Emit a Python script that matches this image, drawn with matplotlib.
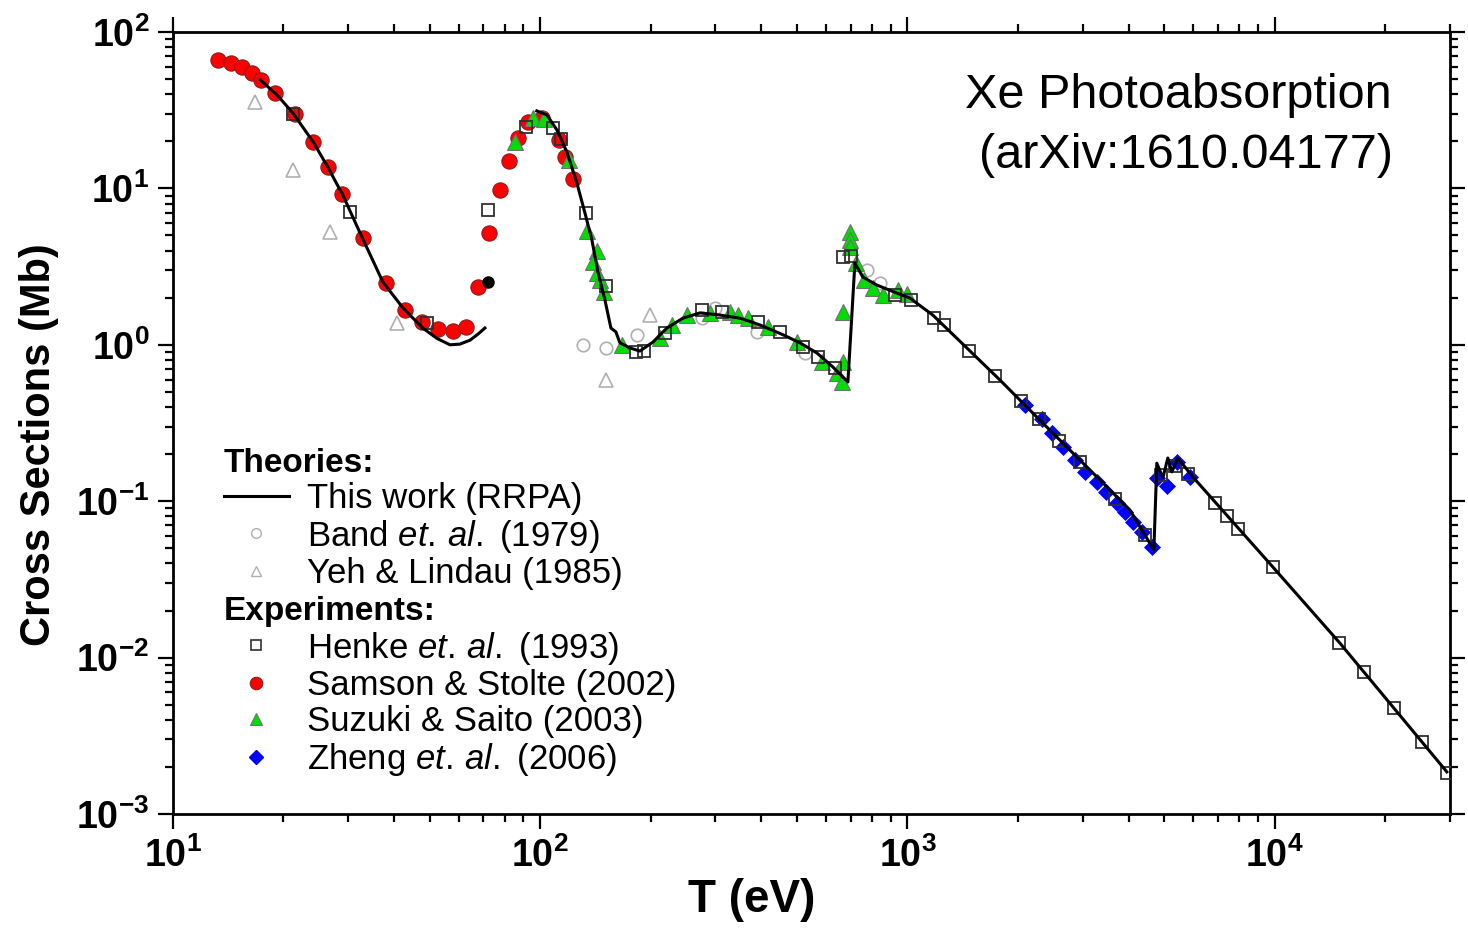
import numpy as np
import matplotlib
matplotlib.use("Agg")
import matplotlib.pyplot as plt
from matplotlib.ticker import LogLocator, FuncFormatter, NullFormatter
from matplotlib.lines import Line2D

plt.rcParams['font.family'] = ['Liberation Sans', 'DejaVu Sans']
plt.rcParams['mathtext.fontset'] = 'custom'
plt.rcParams['mathtext.rm'] = 'Liberation Sans'
plt.rcParams['mathtext.it'] = 'Liberation Sans:italic'
plt.rcParams['mathtext.bf'] = 'Liberation Sans:bold'

# ---------------- data ----------------
# RRPA theory curve (two segments)
rrpa1_T = [17.3, 19.2, 21.2, 24.1, 26.4, 29.0, 32.7, 37.3, 42.3, 47.9, 52.3, 56.8, 60.4,
           64.4, 67.7, 70.7]
rrpa1_sigma = [49.3, 39.6, 30.4, 19.8, 13.7, 9.08, 4.89, 2.52, 1.72, 1.28, 1.10, 1.00, 1.01,
               1.07, 1.17, 1.28]

rrpa2_T = [97.9, 104.3, 111.1, 118.2, 125.9, 132.4, 138.3, 143.6, 150.1, 155.8, 160.7, 164.8,
           175.5, 186.8, 202.7, 221.3, 244.7, 272.2, 308.6, 349.8, 396.4, 458.0, 509.4, 566.6,
           626.6, 688.4, 719.3, 756.2, 825.4, 935.7, 1015, 1172, 1451, 1785, 2195, 2716, 3341,
           4033, 4688, 4775, 4959, 5117, 5247, 5447, 5984, 9880, 15040, 29420]
rrpa2_sigma = [31.3, 29.5, 23.6, 17.1, 10.8, 6.96, 4.68, 2.92, 1.93, 1.28, 1.21, 1.03,
               0.955, 0.912, 1.04, 1.28, 1.48, 1.60, 1.55, 1.48, 1.34, 1.16, 1.03, 0.887,
               0.721, 0.578, 3.33, 2.71, 2.41, 2.14, 1.99, 1.55, 0.955, 0.596, 0.366, 0.222, 0.137,
               0.0879, 0.0488, 0.175, 0.141, 0.189, 0.154, 0.189, 0.143, 0.0380, 0.0124, 0.00186]

# Band et al. (1979)
band_T = [130.7, 151.0, 183.4, 275.5, 299.1, 389.0, 525.6, 775.4, 841.1]
band_sigma = [1.00, 0.955, 1.16, 1.48, 1.72, 1.21, 0.887, 3.01, 2.48]

# Yeh & Lindau (1985)
yeh_T = [16.7, 21.2, 26.8, 40.7, 151.0, 198.9]
yeh_sigma = [35.6, 13.1, 5.26, 1.38, 0.596, 1.55]

# Henke et al. (1993)
henke_T = [21.2, 30.3, 49.1, 72.0, 91.4, 108.3, 113.9, 133.2, 151.0, 182.2, 191.6, 218.6,
           275.5, 312.4, 391.4, 449.4, 519.0, 570.2, 634.5, 667.1, 701.4, 924.1, 1022, 1180,
           1256, 1470, 1730, 2036, 2279, 2584, 2947, 3670, 4430, 4897, 5346, 5800, 6870, 7407,
           7936, 9880, 14950, 17480, 21100, 25150, 29420]
henke_sigma = [29.9, 7.06, 1.38, 7.28, 24.7, 24.3, 20.7, 6.96, 2.38, 0.899, 0.912, 1.19,
               1.67, 1.62, 1.40, 1.21, 0.968, 0.836, 0.711, 3.64, 3.70, 2.08, 1.93, 1.48,
               1.34, 0.912, 0.632, 0.438, 0.336, 0.243, 0.178, 0.103, 0.0608, 0.147, 0.168, 0.149,
               0.0973, 0.0804, 0.0664, 0.0380, 0.0124, 0.00809, 0.00476, 0.00289, 0.00183]

# Samson & Stolte (2002)
samson_T = [13.3, 14.4, 15.4, 16.4, 17.4, 19.0, 21.5, 24.1, 26.4, 28.8, 32.9, 38.0, 42.8,
            47.6, 52.7, 57.8, 62.8, 67.7, 72.5, 77.7, 82.2, 87.0, 92.6, 101.1, 112.4, 116.8, 122.7]
samson_sigma = [66.2, 63.4, 59.8, 54.7, 49.3, 40.7, 29.9, 19.8, 13.7, 9.21, 4.82, 2.48, 1.67,
                1.40, 1.26, 1.22, 1.30, 2.34, 5.19, 9.77, 15.0, 21.0, 26.6, 28.2, 20.4, 15.9, 11.5]

# extra black point
black_T = [72.0]
black_sigma = [2.52]

# Suzuki & Saito (2003)
suzuki_T = [85.3, 95.5, 102.3, 119.7, 134.1, 142.7, 139.2, 142.7, 145.4, 149.1, 166.9, 211.8,
            228.4, 250.9, 289.7, 328.5, 345.3, 367.7, 416.8, 499.9, 584.8, 642.5, 662.9, 667.1,
            667.1, 697.0, 697.0, 697.0, 723.8, 760.9, 805.0, 857.0, 941.7, 996.3]
suzuki_sigma = [19.8, 28.2, 27.8, 15.2, 5.34, 3.98, 3.38, 2.88, 2.60, 2.18, 1.00, 1.10,
                1.34, 1.55, 1.60, 1.62, 1.55, 1.48, 1.30, 1.04, 0.776, 0.660, 0.578, 0.776,
                1.62, 5.26, 4.68, 4.22, 3.33, 2.60, 2.31, 2.08, 2.24, 2.11]

# Zheng et al. (2006)
zheng_T = [2088, 2322, 2473, 2650, 2857, 3041, 3280, 3469, 3717, 3908, 4109, 4346, 4628,
           4775, 5084, 5414, 5874]
zheng_sigma = [0.412, 0.336, 0.273, 0.222, 0.183, 0.154, 0.133, 0.115, 0.0973, 0.0853,
               0.0736, 0.0635, 0.0509, 0.141, 0.125, 0.178, 0.143]

theory_labels = ['This work (RRPA)', r'Band $\mathit{et.\,al.}$ (1979)', 'Yeh & Lindau (1985)']
exp_labels = [r'Henke $\mathit{et.\,al.}$ (1993)', 'Samson & Stolte (2002)',
              'Suzuki & Saito (2003)', r'Zheng $\mathit{et.\,al.}$ (2006)']

# ---------------- figure ----------------
fig = plt.figure(figsize=(14.68, 9.30), dpi=100)
ax = fig.add_axes([0.1178, 0.1247, 0.8699, 0.8409])
ax.set_xscale('log')
ax.set_yscale('log')
ax.set_xlim(10, 3.0e4)
ax.set_ylim(1e-3, 1e2)

gray = '#b0b0b0'
ax.plot(band_T, band_sigma, 'o', ms=9, mfc='white', mec=gray, mew=1.2, ls='none', zorder=2)
ax.plot(yeh_T, yeh_sigma, '^', ms=10, mfc='white', mec=gray, mew=1.2, ls='none', zorder=2)
ax.plot(samson_T, samson_sigma, 'o', ms=11, mfc='#ff0000', mec='#8a2020', mew=0.8, ls='none', zorder=3)
ax.plot(black_T, black_sigma, 'o', ms=8, mfc='black', mec='black', ls='none', zorder=3)
ax.plot(suzuki_T, suzuki_sigma, '^', ms=11, mfc='#00dd00', mec='#707070', mew=0.8, ls='none', zorder=4)
ax.plot(zheng_T, zheng_sigma, 'D', ms=8, mfc='#0000ff', mec='#0000ff', mew=0.5, ls='none', zorder=4)
ax.plot(henke_T, henke_sigma, 's', ms=9, mfc='none', mec='#303030', mew=1.3, ls='none', zorder=5)
ax.plot(rrpa1_T, rrpa1_sigma, '-', color='black', lw=2.2, zorder=6)
ax.plot(rrpa2_T, rrpa2_sigma, '-', color='black', lw=2.2, zorder=6)

# axes styling
for s in ax.spines.values():
    s.set_linewidth(2.0)
ax.xaxis.set_major_locator(LogLocator(base=10, numticks=10))
ax.xaxis.set_minor_locator(LogLocator(base=10, subs=np.arange(2, 10), numticks=20))
ax.yaxis.set_major_locator(LogLocator(base=10, numticks=10))
ax.yaxis.set_minor_locator(LogLocator(base=10, subs=np.arange(2, 10), numticks=20))
fmt = FuncFormatter(lambda v, p: r'$\mathbf{10^{%d}}$' % int(round(np.log10(v))))
ax.xaxis.set_major_formatter(fmt)
ax.yaxis.set_major_formatter(fmt)
ax.xaxis.set_minor_formatter(NullFormatter())
ax.yaxis.set_minor_formatter(NullFormatter())
ax.tick_params(which='both', direction='out', top=True, right=True, width=1.6)
ax.tick_params(which='major', length=11, labelsize=27, pad=6)
ax.tick_params(which='minor', length=6)

ax.set_xlabel('T (eV)', fontsize=33, fontweight='bold', labelpad=2)
ax.xaxis.label.set_x(0.453)
ax.set_ylabel('Cross Sections (Mb)', fontsize=30, fontweight='bold', labelpad=12)
ax.yaxis.label.set_y(0.472)

ax.text(0.787, 0.919, 'Xe Photoabsorption', transform=ax.transAxes, fontsize=35,
        ha='center', va='center')
ax.text(0.793, 0.842, '(arXiv:1610.04177)', transform=ax.transAxes, fontsize=35,
        ha='center', va='center')

# legends
th_handles = [
    Line2D([], [], color='black', lw=2.2),
    Line2D([], [], marker='o', ls='none', ms=7, mfc='white', mec=gray, mew=1.0),
    Line2D([], [], marker='^', ls='none', ms=7, mfc='white', mec=gray, mew=1.0),
]
ex_handles = [
    Line2D([], [], marker='s', ls='none', ms=7, mfc='white', mec='#303030', mew=1.2),
    Line2D([], [], marker='o', ls='none', ms=9, mfc='#ff0000', mec='#8a2020', mew=0.8),
    Line2D([], [], marker='^', ls='none', ms=9, mfc='#00dd00', mec='#707070', mew=0.8),
    Line2D([], [], marker='D', ls='none', ms=7, mfc='#0000ff', mec='#0000ff'),
]
common = dict(frameon=False, fontsize=25, handlelength=1.87, handletextpad=0.52,
              labelspacing=0.08, borderpad=0, borderaxespad=0, loc='upper left',
              title_fontproperties={'weight': 'bold', 'size': 24})
leg1 = ax.legend(th_handles, theory_labels, title='Theories:',
                 bbox_to_anchor=(0.040, 0.468), **common)
leg1._legend_box.align = 'left'
ax.add_artist(leg1)
leg2 = ax.legend(ex_handles, exp_labels, title='Experiments:',
                 bbox_to_anchor=(0.040, 0.279), **common)
leg2._legend_box.align = 'left'

fig.savefig('out.png', dpi=100)
